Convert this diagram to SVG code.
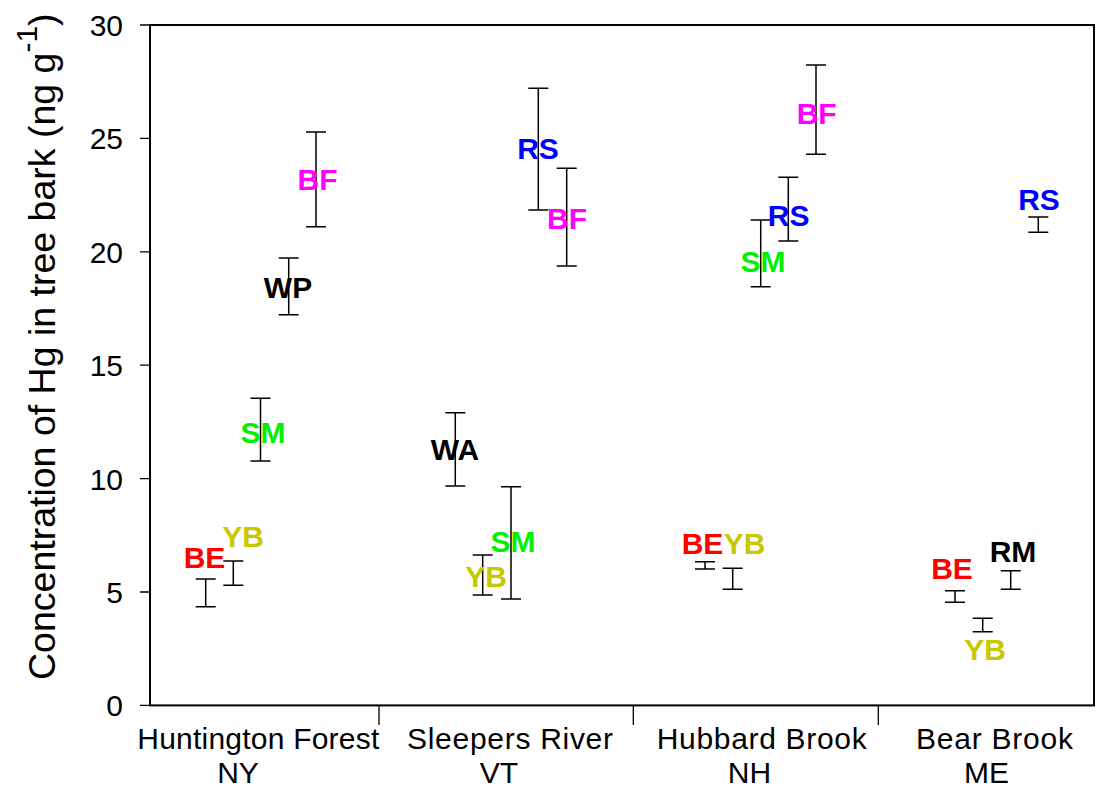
<svg xmlns="http://www.w3.org/2000/svg" width="1100" height="788" viewBox="0 0 1100 788">
<style>
text{font-family:"Liberation Sans",Arial,sans-serif}
.ax{stroke:#000;stroke-width:2;fill:none}
.tk{stroke:#000;stroke-width:1.3;fill:none}
.eb{stroke:#000;stroke-width:1.5;fill:none}
.num{font-size:30px;text-anchor:end;fill:#000}
.cat{font-size:30px;text-anchor:middle;fill:#000}
.lb{font-size:30px;font-weight:bold;text-anchor:middle}
.BE{fill:#FF0000}.YB{fill:#C8C800}.SM{fill:#00F000}.BF{fill:#FF00FF}.RS{fill:#0000FF}.K{fill:#000}
</style>
<rect width="1100" height="788" fill="#fff"/>
<g id="axes">
<rect class="ax" x="150" y="25" width="944" height="680.4"/>
<path class="tk" d="M140 25H150M140 138.4H150M140 251.8H150M140 365.2H150M140 478.6H150M140 592H150M140 705.4H150"/>
<path class="tk" d="M379 705V725M633.3 705V725M878.3 705V725"/>
<text class="num" x="123" y="36">30</text>
<text class="num" x="123" y="149.4">25</text>
<text class="num" x="123" y="262.8">20</text>
<text class="num" x="123" y="376.2">15</text>
<text class="num" x="123" y="489.6">10</text>
<text class="num" x="123" y="603">5</text>
<text class="num" x="123" y="716.4">0</text>
<text class="cat" x="258.3" y="748.5" textLength="242" lengthAdjust="spacing">Huntington Forest</text>
<text class="cat" x="238" y="782.5">NY</text>
<text class="cat" x="510" y="748.5" textLength="206" lengthAdjust="spacing">Sleepers River</text>
<text class="cat" x="499" y="782.5">VT</text>
<text class="cat" x="761.7" y="748.5" textLength="210" lengthAdjust="spacing">Hubbard Brook</text>
<text class="cat" x="749.5" y="782.5">NH</text>
<text class="cat" x="994.5" y="748.5" textLength="157" lengthAdjust="spacing">Bear Brook</text>
<text class="cat" x="986.5" y="782.5">ME</text>
<text transform="translate(55,680) rotate(-90)" font-size="37.5" fill="#000">Concentration of Hg in tree bark (ng g<tspan font-size="30" dy="-18">-1</tspan><tspan dy="18">)</tspan></text>
</g>
<g id="connectors"></g>
<g id="HF-BE"><path class="eb" d="M205.7 579V606.7M195.7 579H215.7M195.7 606.7H215.7"/><text class="lb BE" x="204.5" y="568">BE</text></g>
<g id="HF-YB"><path class="eb" d="M233.3 561V585.3M223.3 561H243.3M223.3 585.3H243.3"/><text class="lb YB" x="243" y="547">YB</text></g>
<g id="HF-SM"><path class="eb" d="M260.5 398.3V461M250.5 398.3H270.5M250.5 461H270.5"/><text class="lb SM" x="263" y="442.7">SM</text></g>
<g id="HF-WP"><path class="eb" d="M288.7 258V314.7M278.7 258H298.7M278.7 314.7H298.7"/><text class="lb K" x="288" y="297.7">WP</text></g>
<g id="HF-BF"><path class="eb" d="M316 132V226.7M306 132H326M306 226.7H326"/><text class="lb BF" x="317.5" y="190">BF</text></g>
<g id="SR-WA"><path class="eb" d="M455.3 412.7V486M445.3 412.7H465.3M445.3 486H465.3"/><text class="lb K" x="455" y="460">WA</text></g>
<g id="SR-YB"><path class="eb" d="M482.7 555V595M472.7 555H492.7M472.7 595H492.7"/><text class="lb YB" x="486" y="586.7">YB</text></g>
<g id="SR-SM"><path class="eb" d="M511 486.7V599M501 486.7H521M501 599H521"/><text class="lb SM" x="513" y="551.7">SM</text></g>
<g id="SR-RS"><path class="eb" d="M538.3 88.3V210M528.3 88.3H548.3M528.3 210H548.3"/><text class="lb RS" x="538" y="159.3">RS</text></g>
<g id="SR-BF"><path class="eb" d="M566.7 168.3V266M556.7 168.3H576.7M556.7 266H576.7"/><text class="lb BF" x="567" y="229.3">BF</text></g>
<g id="HB-BE"><path class="eb" d="M705 561.7V569M695 561.7H715M695 569H715"/><text class="lb BE" x="702.5" y="554">BE</text></g>
<g id="HB-YB"><path class="eb" d="M732.7 568.3V589.3M722.7 568.3H742.7M722.7 589.3H742.7"/><text class="lb YB" x="744.7" y="554">YB</text></g>
<g id="HB-SM"><path class="eb" d="M760.7 220V286.7M750.7 220H770.7M750.7 286.7H770.7"/><text class="lb SM" x="763" y="271.7">SM</text></g>
<g id="HB-RS"><path class="eb" d="M788.3 177.3V241M778.3 177.3H798.3M778.3 241H798.3"/><text class="lb RS" x="788.7" y="225.7">RS</text></g>
<g id="HB-BF"><path class="eb" d="M816 65V154.3M806 65H826M806 154.3H826"/><text class="lb BF" x="816.7" y="124">BF</text></g>
<g id="BB-BE"><path class="eb" d="M955 590.7V602.3M945 590.7H965M945 602.3H965"/><text class="lb BE" x="952" y="579">BE</text></g>
<g id="BB-YB"><path class="eb" d="M982.7 618.3V631.7M972.7 618.3H992.7M972.7 631.7H992.7"/><text class="lb YB" x="985" y="660">YB</text></g>
<g id="BB-RM"><path class="eb" d="M1010.7 570.7V589.3M1000.7 570.7H1020.7M1000.7 589.3H1020.7"/><text class="lb K" x="1013" y="561.7">RM</text></g>
<g id="BB-RS"><path class="eb" d="M1038.3 217V232.3M1028.3 217H1048.3M1028.3 232.3H1048.3"/><text class="lb RS" x="1039" y="210">RS</text></g>
</svg>
